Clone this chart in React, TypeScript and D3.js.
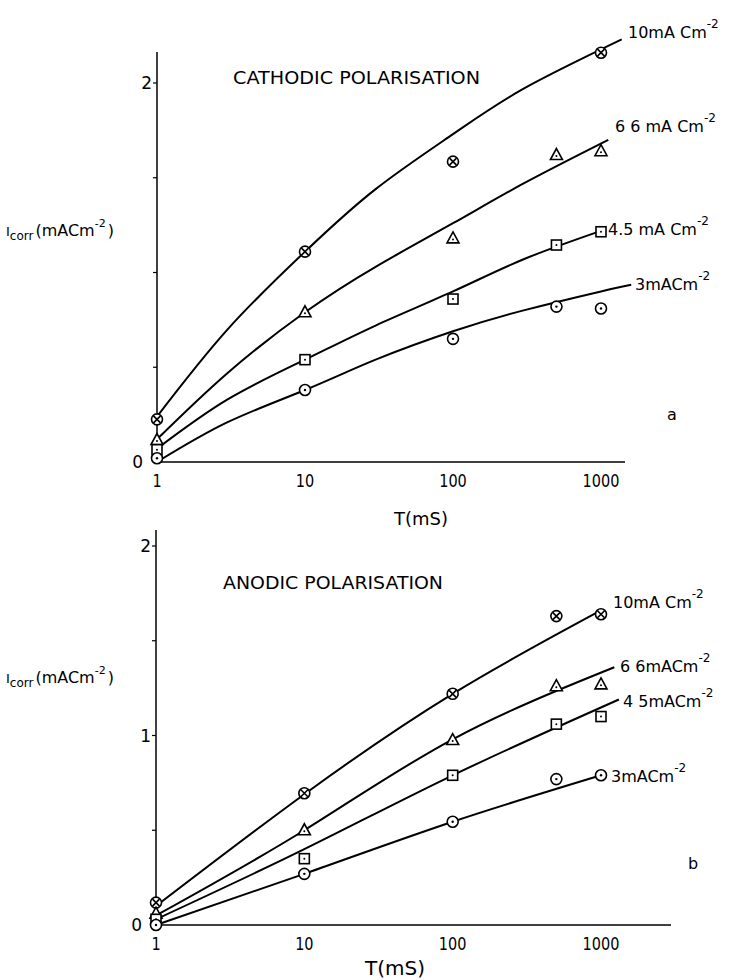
import React from 'react'
import * as d3 from 'd3'

// x ticks (ms) shared by both panels
const xTicks = [1, 10, 100, 1000]
const yTicks = [0, 0.5, 1, 1.5, 2]
const yLabelsA = ['0', '', '', '', '2']
const yLabelsB = ['0', '', '1', '', '2']

const series = ['10', '6.6', '4.5', '3']
const markers = ['crossCircle', 'triangle', 'square', 'dotCircle']

// cathodic polarisation - measured points
const cathT10 = [1, 10, 100, 1000]
const cath10 = [0.225, 1.11, 1.585, 2.16]
const cathT = [1, 10, 100, 500, 1000]
const cath66 = [0.116, 0.79, 1.18, 1.62, 1.64]
const cath45 = [0.065, 0.54, 0.86, 1.145, 1.215]
const cath3 = [0.02, 0.38, 0.65, 0.82, 0.81]

// cathodic - fitted curves
const cathCurveT10 = [1, 3, 10, 30, 100, 300, 1380]
const cathCurve10 = [0.24, 0.7, 1.11, 1.44, 1.73, 1.97, 2.23]
const cathCurveT66 = [1, 3, 10, 30, 100, 300, 1120]
const cathCurve66 = [0.12, 0.47, 0.79, 1.03, 1.26, 1.47, 1.7]
const cathCurveT45 = [1, 3, 10, 30, 100, 300, 1000]
const cathCurve45 = [0.07, 0.33, 0.54, 0.72, 0.9, 1.07, 1.22]
const cathCurveT3 = [1, 3, 10, 30, 100, 300, 1000, 1600]
const cathCurve3 = [0.0, 0.21, 0.38, 0.54, 0.69, 0.8, 0.9, 0.935]

// anodic polarisation - measured points
const anodT = [1, 10, 100, 500, 1000]
const anod10 = [0.118, 0.695, 1.22, 1.63, 1.64]
const anod66 = [0.06, 0.5, 0.976, 1.26, 1.27]
const anod45 = [0.03, 0.35, 0.79, 1.06, 1.1]
const anod3 = [0.0, 0.27, 0.545, 0.77, 0.79]

// anodic - fitted curves
const anodCurveT10 = [1, 10, 100, 1000]
const anodCurve10 = [0.1, 0.69, 1.22, 1.66]
const anodCurveT66 = [1, 10, 100, 1230]
const anodCurve66 = [0.05, 0.5, 0.98, 1.36]
const anodCurveT45 = [1, 10, 100, 1320]
const anodCurve45 = [0.03, 0.4, 0.79, 1.19]
const anodCurveT3 = [1, 10, 100, 1000]
const anodCurve3 = [0.0, 0.27, 0.545, 0.79]

const FONT = 'DejaVu Sans, sans-serif'

type Pt = [number, number]
const zip = (t: number[], v: number[]): Pt[] => t.map((d, i) => [d, v[i]])

function Marker({ kind, x, y }: { kind: string; x: number; y: number }) {
  const r = 5.5
  const common = { fill: 'white', stroke: 'black', strokeWidth: 1.6 }
  if (kind === 'crossCircle') {
    return (
      <g>
        <circle cx={x} cy={y} r={r} {...common} />
        <path d={`M${x - 3.5},${y - 3.5}L${x + 3.5},${y + 3.5}M${x - 3.5},${y + 3.5}L${x + 3.5},${y - 3.5}`} stroke="black" strokeWidth={1.6} />
      </g>
    )
  }
  if (kind === 'triangle') {
    return (
      <g>
        <path d={`M${x},${y - 6.5}L${x + 6},${y + 4.5}L${x - 6},${y + 4.5}Z`} {...common} />
        <circle cx={x} cy={y + 1} r={1} fill="black" />
      </g>
    )
  }
  if (kind === 'square') {
    return (
      <g>
        <rect x={x - 5} y={y - 5} width={10} height={10} {...common} />
        <circle cx={x} cy={y} r={1} fill="black" />
      </g>
    )
  }
  return (
    <g>
      <circle cx={x} cy={y} r={r} {...common} />
      <circle cx={x} cy={y} r={1.2} fill="black" />
    </g>
  )
}

interface PanelProps {
  x0: number
  x1: number
  axisEnd: number
  y0: number
  y2: number
  axisTop: number
  yLabels: string[]
  title: string
  titleX: number
  titleY: number
  titleLen: number
  points: Pt[][]
  curves: Pt[][]
  labels: { text: string; x: number; y: number }[]
  xLabelX: number
  xLabelY: number
  xLabelSize: number
  yLabelY: number
  letter: string
  letterX: number
  letterY: number
  tickLabelY: number
}

function Panel(p: PanelProps) {
  const x = d3.scaleLog().domain([1, 1000]).range([p.x0, p.x1])
  const y = d3.scaleLinear().domain([0, 2]).range([p.y0, p.y2])
  const line = d3
    .line<Pt>()
    .x(d => x(d[0]))
    .y(d => y(d[1]))
    .curve(d3.curveNatural)

  return (
    <g fontFamily={FONT} fill="black">
      {/* axes */}
      <line x1={p.x0} x2={p.x0} y1={p.y0} y2={p.axisTop} stroke="black" strokeWidth={1.5} />
      <line x1={p.x0} x2={p.axisEnd} y1={p.y0} y2={p.y0} stroke="black" strokeWidth={1.5} />
      {yTicks.map((t, i) => (
        <g key={t}>
          {i > 0 && <line x1={p.x0 - 4} x2={p.x0} y1={y(t)} y2={y(t)} stroke="black" strokeWidth={1.2} />}
          {p.yLabels[i] && (
            <text x={i === 0 ? p.x0 - 14 : p.x0 - 5} y={y(t) + 6} fontSize={17} textAnchor="end">
              {p.yLabels[i]}
            </text>
          )}
        </g>
      ))}
      {xTicks.map(t => (
        <text key={t} x={x(t)} y={p.tickLabelY} fontSize={17} textAnchor="middle"
          textLength={String(t).length * 9.2} lengthAdjust="spacingAndGlyphs">
          {t}
        </text>
      ))}
      <text x={p.xLabelX} y={p.xLabelY} fontSize={p.xLabelSize} textAnchor="middle">T(mS)</text>

      {/* y label */}
      <text x={6} y={p.yLabelY} fontSize={16}>
        <tspan fontSize={13}>I</tspan>
        <tspan fontSize={12} dy={4}>corr</tspan>
        <tspan dy={-4} dx={2}>(mACm</tspan>
        <tspan fontSize={11} dy={-9}>-2</tspan>
        <tspan dy={9} dx={2}>)</tspan>
      </text>

      <text x={p.titleX} y={p.titleY} fontSize={17} textLength={p.titleLen} lengthAdjust="spacingAndGlyphs">
        {p.title}
      </text>
      <text x={p.letterX} y={p.letterY} fontSize={16}>{p.letter}</text>

      {/* curves */}
      {p.curves.map((c, i) => (
        <path key={series[i]} d={line(c) ?? ''} fill="none" stroke="black" strokeWidth={2} />
      ))}
      {/* points */}
      {p.points.map((pts, i) =>
        pts.map((d, j) => <Marker key={`${i}-${j}`} kind={markers[i]} x={x(d[0])} y={y(d[1])} />)
      )}
      {/* series labels */}
      {p.labels.map(l => (
        <text key={l.text + l.y} x={l.x} y={l.y} fontSize={16}>
          {l.text}
          <tspan fontSize={12} dy={-10}>-2</tspan>
        </text>
      ))}
    </g>
  )
}

export default function App() {
  return (
    <svg width={729} height={980} style={{ position: 'absolute', left: 0, top: 0, background: 'white' }}>
      <Panel
        x0={157} x1={601} axisEnd={625} y0={462} y2={83} axisTop={52}
        yLabels={yLabelsA}
        title="CATHODIC POLARISATION" titleX={233} titleY={84} titleLen={247}
        points={[zip(cathT10, cath10), zip(cathT, cath66), zip(cathT, cath45), zip(cathT, cath3)]}
        curves={[
          zip(cathCurveT10, cathCurve10),
          zip(cathCurveT66, cathCurve66),
          zip(cathCurveT45, cathCurve45),
          zip(cathCurveT3, cathCurve3),
        ]}
        labels={[
          { text: `${series[0]}mA Cm`, x: 628, y: 38 },
          { text: '6 6 mA Cm', x: 615, y: 132 },
          { text: '4.5 mA Cm', x: 608, y: 235 },
          { text: `${series[3]}mACm`, x: 635, y: 290 },
        ]}
        xLabelX={421} xLabelY={525} xLabelSize={18}
        yLabelY={236}
        letter="a" letterX={667} letterY={420}
        tickLabelY={487}
      />
      <Panel
        x0={156} x1={601} axisEnd={671} y0={925} y2={546} axisTop={530}
        yLabels={yLabelsB}
        title="ANODIC POLARISATION" titleX={223} titleY={589} titleLen={220}
        points={[zip(anodT, anod10), zip(anodT, anod66), zip(anodT, anod45), zip(anodT, anod3)]}
        curves={[
          zip(anodCurveT10, anodCurve10),
          zip(anodCurveT66, anodCurve66),
          zip(anodCurveT45, anodCurve45),
          zip(anodCurveT3, anodCurve3),
        ]}
        labels={[
          { text: `${series[0]}mA Cm`, x: 613, y: 608 },
          { text: '6 6mACm', x: 620, y: 672 },
          { text: '4 5mACm', x: 623, y: 707 },
          { text: `${series[3]}mACm`, x: 611, y: 782 },
        ]}
        xLabelX={395} xLabelY={975} xLabelSize={20}
        yLabelY={683}
        letter="b" letterX={688} letterY={869}
        tickLabelY={950}
      />
    </svg>
  )
}
